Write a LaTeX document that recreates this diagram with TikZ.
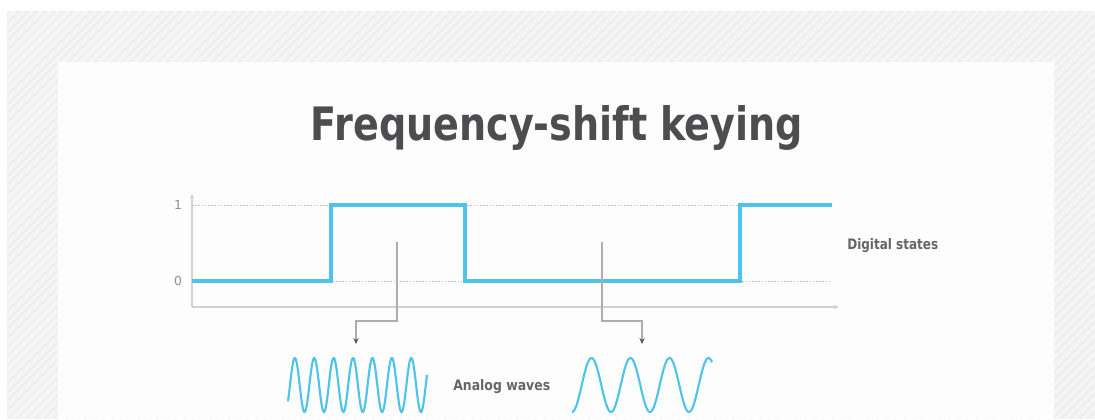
\documentclass[tikz,border=0pt]{standalone}
\usepackage{fontspec}
\setmainfont{DejaVu Sans}
\newfontfamily\condfont{DejaVu Sans Condensed}
\usepackage{graphicx}
\usetikzlibrary{arrows.meta}
\definecolor{bandgray}{HTML}{F0F0F0}
\definecolor{stripegray}{HTML}{F6F6F6}
\definecolor{panel}{HTML}{FDFDFD}
\definecolor{titlegray}{HTML}{4D4D4F}
\definecolor{labelgray}{HTML}{666666}
\definecolor{ticklabel}{HTML}{8E8E8E}
\definecolor{axisgray}{HTML}{D2D2D2}
\definecolor{dotgray}{HTML}{C4C4C4}
\definecolor{connector}{HTML}{ADADAD}
\definecolor{tipgray}{HTML}{555555}
\definecolor{signal}{HTML}{4EC4EC}
\tikzset{
  signalline/.style={draw=signal, line width=2.3pt, line join=miter},
  waveline/.style={draw=signal, line width=1.6pt},
  axisline/.style={draw=axisgray, line width=0.8pt},
  guideline/.style={draw=dotgray, line width=0.6pt, dash pattern=on 1.2pt off 1.2pt},
  connline/.style={draw=connector, line width=1.3pt, -{Stealth[length=4.5pt,width=4pt,color=tipgray]}},
  ticklbl/.style={text=ticklabel, inner sep=0pt, font=\fontsize{9.3}{9.3}\selectfont},
  lbl/.style={text=labelgray, inner sep=0pt, anchor=base west},
}
\begin{document}
\begin{tikzpicture}[x=0.75pt, y=-0.75pt]
\useasboundingbox (0,0) rectangle (1095,419);
% background band with stripes
\fill[white] (0,0) rectangle (1095,419);
\fill[bandgray] (7,11) rectangle (1095,419);
\begin{scope}
\clip (7,11) rectangle (1095,419);
\foreach \k in {-420,-411,...,1100} {
  \draw[stripegray, line width=2.4pt] (\k,419) -- (\k+408,11);
}
\end{scope}
\fill[panel] (58,62) rectangle (1054,419);

% title
\node[anchor=base, inner sep=0pt, text=titlegray] (title) at (557,140)
  {\resizebox{369pt}{26.25pt}{\condfont\bfseries Frequency-shift keying}};

% axes
\coordinate (origin) at (192,307);
\coordinate (ytop) at (192,194);
\coordinate (xend) at (839,307);
\draw[axisline, -{Stealth[length=4pt,width=3.5pt]}] (origin) -- (xend);
\draw[axisline, -{Stealth[length=3pt,width=3pt]}] (origin) -- (ytop);

% guide lines
\coordinate (one) at (192,205);
\coordinate (oneend) at (832,205);
\coordinate (zero) at (192,281);
\coordinate (zeroend) at (832,281);
\draw[guideline] (one) -- (oneend);
\draw[guideline] (zero) -- (zeroend);
\node[ticklbl] (lone) at (178,205) {1};
\node[ticklbl] (lzero) at (178,281) {0};

% digital signal
\draw[signalline] (192,281) -- (331,281) -- (331,205) -- (465,205) -- (465,281) -- (740,281) -- (740,205) -- (832,205);

\node[lbl] (digital) at (847,249) {\resizebox{68.25pt}{8.25pt}{\condfont\bfseries Digital states}};

% connectors
\coordinate (src1) at (397,242);
\coordinate (dst1) at (356,344);
\coordinate (src2) at (602,242);
\coordinate (dst2) at (642,344);
\draw[connline] (src1) |- (376,321) -| (dst1);
\draw[connline] (src2) |- (622,321) -| (dst2);

% analog waves
\draw[waveline] plot[domain=288:427, samples=300, smooth] (\x, {385-27*sin(18.5567*(\x-290))});
\draw[waveline] plot[domain=572:712, samples=200, smooth] (\x, {385+27*cos(9.2308*(\x-572))});

\node[lbl] (analog) at (453,390) {\resizebox{72.75pt}{8.25pt}{\condfont\bfseries Analog waves}};
\end{tikzpicture}
\end{document}
